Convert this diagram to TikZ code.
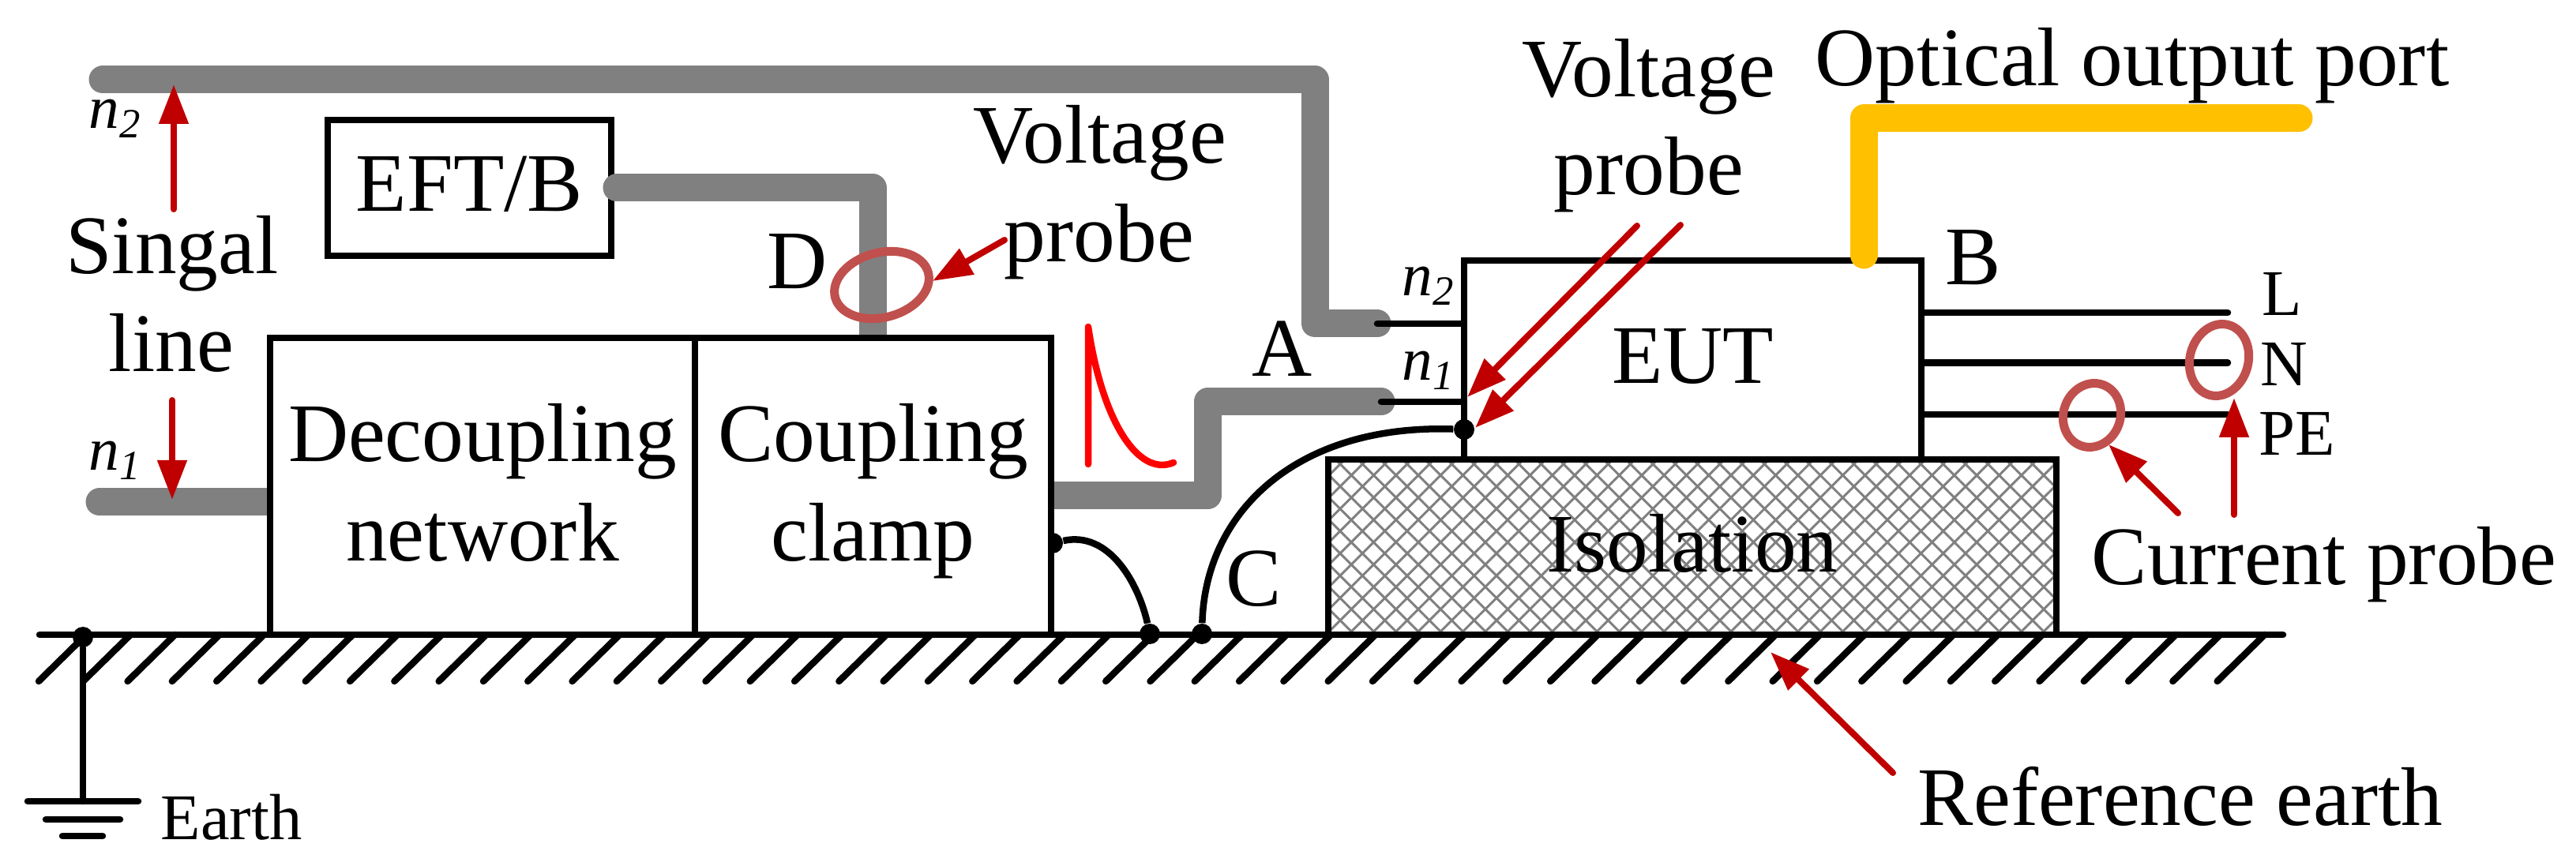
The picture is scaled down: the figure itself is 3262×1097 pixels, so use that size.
\documentclass[tikz,border=0pt]{standalone}
\usepackage{fontspec}
\usepackage{xcolor}
\usetikzlibrary{arrows.meta,patterns.meta,shapes.geometric}
\setmainfont{Liberation Serif}

\definecolor{wiregray}{HTML}{808080}
\definecolor{arrowred}{HTML}{C00000}
\definecolor{ringred}{HTML}{C0504D}
\definecolor{fibreorange}{HTML}{FFC000}

\newcommand{\portlab}[1]{\textit{n}\raisebox{-1.2mm}{\fontsize{15}{15}\selectfont\textit{#1}}}

\tikzset{
	bigtext/.style={font=\fontsize{30}{35.8}\selectfont, inner sep=0pt},
	lab/.style={bigtext, anchor=base},
	smalllab/.style={font=\fontsize{23.5}{28}\selectfont, inner sep=0pt, anchor=base west},
	portlabel/.style={font=\fontsize{22}{26}\selectfont, inner sep=0pt, anchor=base west},
	blockbox/.style={draw, line width=0.85mm, bigtext, align=center, text depth=1mm, inner sep=0pt},
	wire/.style={wiregray, line width=3.5mm, line cap=round, line join=round},
	fibre/.style={fibreorange, line width=3.5mm, line cap=round, line join=round},
	thin wire/.style={line width=0.85mm, line cap=round},
	probearrow/.style={arrowred, line width=0.8mm, line cap=round, -{Triangle[length=5mm,width=3.6mm]}},
	probering/.style={draw=ringred, line width=1.1mm, ellipse, inner sep=0pt},
	joint/.style={circle, fill=black, inner sep=0pt, minimum size=2.6mm},
	crosshatch/.style={
	    preaction={pattern={Lines[angle=45,distance=2mm,line width=0.3mm]}, pattern color=wiregray},
	    pattern={Lines[angle=-45,distance=2mm,line width=0.3mm]}, pattern color=wiregray}
}

\begin{document}
\begin{tikzpicture}[x=0.1mm, y=-0.1mm]
	\useasboundingbox (0,0) rectangle (3262,1097);

	% ground with hatching
	\coordinate (gndleft) at (50,804);
	\coordinate (gndright) at (2891,804);
	\draw[thin wire] (gndleft) -- (gndright);
	\foreach \i in {0,...,49}
	    \draw[thin wire] ({49+56.3*\i},863) -- ({109+56.3*\i},804);

	% earth symbol
	\node[joint] (earthdot) at (105,807) {};
	\coordinate (earthfoot) at (105,1015);
	\draw[thin wire] (earthdot) -- (earthfoot);
	\draw[thin wire] (35,1015) -- (175,1015);
	\draw[thin wire] (58,1038) -- (152,1038);
	\draw[thin wire] (79,1059) -- (130,1059);
	\node[smalllab] (earthlab) at (203,1063) {Earth};

	\node[blockbox, minimum width=35.9mm, minimum height=17.2mm] (eftb) at (594.5,238) {EFT/B};

	% signal lines
	\coordinate (n2start) at (130,101);
	\coordinate (n2end) at (1744,410);
	\coordinate (n1start) at (126,636);
	\coordinate (netin) at (370,636);
	\coordinate (eftout) at (781,238);
	\coordinate (clampin) at (1105,450);
	\coordinate (clampout) at (1300,628);
	\coordinate (n1end) at (1749,509);
	\draw[wire] (n2start) -- (1665,101) -- (1665,410) -- (n2end);
	\draw[wire] (n1start) -- (netin);
	\draw[wire] (eftout) -- (1105,238) -- (clampin);
	\draw[wire] (clampout) -- (1529,628) -- (1529,509) -- (n1end);

	% bond wires
	\node[joint] (clampdot) at (1333,688) {};
	\node[joint] (grounddota) at (1456,803) {};
	\node[joint] (grounddotb) at (1522,803) {};
	\node[joint] (eutdot) at (1854,544) {};
	\draw[line width=0.85mm] (clampdot) .. controls (1405,672) and (1442,740) .. (grounddota);
	\draw[line width=0.85mm] (grounddotb) .. controls (1526,650) and (1640,537) .. (eutdot);

	% boxes
	\node[blockbox, fill=white, minimum width=53.8mm, minimum height=37.6mm] (decoupling) at (611,616) {Decoupling\\network};
	\node[blockbox, fill=white, minimum width=45.1mm, minimum height=37.6mm] (coupling) at (1105.5,616) {Coupling\\clamp};
	\node[blockbox, minimum width=57.9mm, minimum height=25.2mm] (eut) at (2143.5,456) {EUT};
	\node[blockbox, crosshatch, minimum width=92.2mm, minimum height=22.2mm] (isolation) at (2143,693) {Isolation};

	% optical port
	\coordinate (fibrein) at (2360,323);
	\coordinate (fibreout) at (2911,150);
	\draw[fibre] (fibrein) -- (2360,150) -- (fibreout);

	% EUT stubs
	\draw[thin wire] (n2end) -- (n2end -| eut.west);
	\draw[thin wire] (n1end) -- (n1end -| eut.west);
	\draw[thin wire] (eut.east |- 0,396) -- (2821,396);
	\draw[thin wire] (eut.east |- 0,459.5) -- (2821,459.5);
	\draw[thin wire] (eut.east |- 0,525) -- (2821,525);

	% pulse
	\draw[red, line width=0.85mm, line cap=round, line join=round] (1378,588) -- (1378,414) .. controls (1395,530) and (1440,605) .. (1486,586);

	% probes
	\node[probering, minimum width=12.2mm, minimum height=8.2mm, rotate=15] (ringd) at (1116.5,361) {};
	\node[probering, minimum width=7.4mm, minimum height=9.2mm, rotate=-15] (ringn) at (2810,456) {};
	\node[probering, minimum width=7.2mm, minimum height=8.2mm, rotate=-20] (ringpe) at (2649,526) {};

	% red arrows
	\coordinate (sigtop) at (220,265);
	\coordinate (sigtoptip) at (220,107);
	\coordinate (sigbot) at (218,507);
	\coordinate (sigbottip) at (218,633);
	\draw[probearrow] (sigtop) -- (sigtoptip);
	\draw[probearrow] (sigbot) -- (sigbottip);
	\coordinate (vpa) at (1272,304);
	\coordinate (vpatip) at (1181,356);
	\draw[probearrow] (vpa) -- (vpatip);
	\coordinate (vpb) at (2073,286);
	\coordinate (vpbtip) at (1858,503);
	\coordinate (vpc) at (2128,285);
	\coordinate (vpctip) at (1868,542);
	\draw[probearrow] (vpb) -- (vpbtip);
	\draw[probearrow] (vpc) -- (vpctip);
	\coordinate (cpa) at (2829,652);
	\coordinate (cpatip) at (2829,504);
	\coordinate (cpb) at (2758,650);
	\coordinate (cpbtip) at (2670,563);
	\draw[probearrow] (cpa) -- (cpatip);
	\draw[probearrow] (cpb) -- (cpbtip);
	\coordinate (refa) at (2397,979);
	\coordinate (refatip) at (2242,826);
	\draw[probearrow] (refa) -- (refatip);

	% labels
	\node[lab] (singal) at (218,347) {Singal};
	\node[lab] (line) at (217,471) {line};
	\node[lab] (dlab) at (1010,366) {D};
	\node[lab] (volta) at (1393,207) {Voltage};
	\node[lab] (proba) at (1392,332) {probe};
	\node[lab] (alab) at (1624,477) {A};
	\node[lab] (clab) at (1588,768) {C};
	\node[lab] (voltb) at (2088,123) {Voltage};
	\node[lab] (probb) at (2088,247) {probe};
	\node[lab] (optical) at (2700,109) {Optical output port};
	\node[lab] (blab) at (2499,361) {B};
	\node[lab] (current) at (2943,741) {Current probe};
	\node[lab] (refearth) at (2761,1045) {Reference earth};
	\node[smalllab] (llab) at (2864,400) {L};
	\node[smalllab] (nlab) at (2862,489) {N};
	\node[smalllab] (pelab) at (2860,577) {PE};
	\node[portlabel] (ntwoa) at (112,163) {\portlab{2}};
	\node[portlabel] (nonea) at (112,596) {\portlab{1}};
	\node[portlabel] (ntwob) at (1775,375) {\portlab{2}};
	\node[portlabel] (noneb) at (1775,482) {\portlab{1}};
\end{tikzpicture}
\end{document}
